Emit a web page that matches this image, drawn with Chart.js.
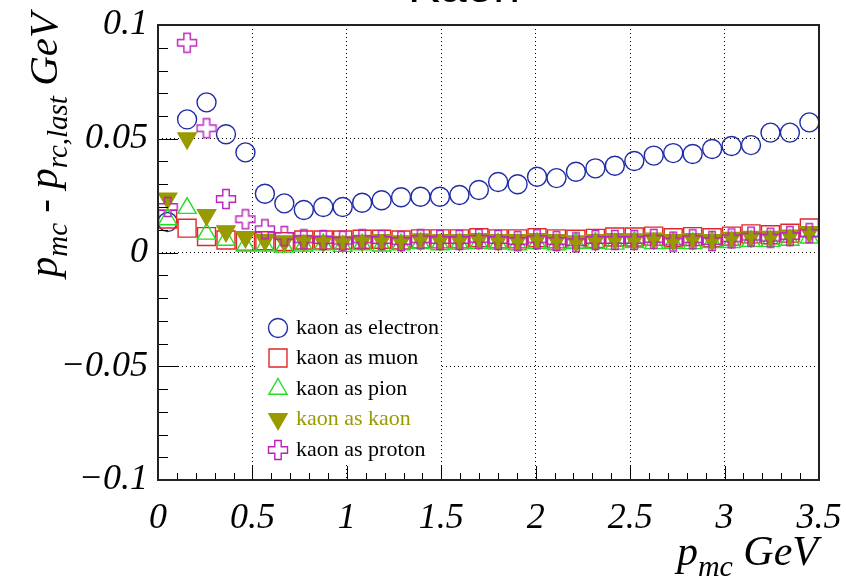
<!DOCTYPE html>
<html>
<head>
<meta charset="utf-8">
<title>Kaon</title>
<script src="https://cdn.jsdelivr.net/npm/chart.js"></script>
<style>
    html, body { margin: 0; padding: 0; background: #ffffff; }
    #wrap { width: 846px; height: 582px; }
</style>
</head>
<body>
<div id="wrap"><canvas id="myChart" width="846" height="582"></canvas></div>
<script>
// bin centres, p_mc in GeV
let p_mc = [0.051, 0.154, 0.257, 0.360, 0.463, 0.566, 0.669, 0.772, 0.875, 0.978,
    1.081, 1.184, 1.287, 1.390, 1.493, 1.596, 1.699, 1.801, 1.904, 2.007,
    2.110, 2.213, 2.316, 2.419, 2.522, 2.625, 2.728, 2.831, 2.934, 3.037,
    3.140, 3.243, 3.346, 3.449];

let labels = ['kaon as electron', 'kaon as muon', 'kaon as pion', 'kaon as kaon', 'kaon as proton'];

// p_mc - p_rc,last in GeV
let asElectron = [0.0134, 0.0585, 0.0660, 0.0520, 0.0440, 0.0258, 0.0216, 0.0187, 0.0200, 0.0200,
    0.0219, 0.0230, 0.0243, 0.0245, 0.0245, 0.0253, 0.0275, 0.0310, 0.0300, 0.0333,
    0.0327, 0.0355, 0.0370, 0.0381, 0.0402, 0.0426, 0.0437, 0.0433, 0.0455, 0.0468,
    0.0472, 0.0527, 0.0527, 0.0572];
let asMuon = [0.0147, 0.0107, 0.0070, 0.0055, 0.0050, 0.0052, 0.0048, 0.0055, 0.0055, 0.0055,
    0.0058, 0.0058, 0.0055, 0.0060, 0.0060, 0.0060, 0.0065, 0.0060, 0.0060, 0.0065,
    0.0060, 0.0058, 0.0062, 0.0068, 0.0068, 0.0072, 0.0065, 0.0070, 0.0065, 0.0072,
    0.0082, 0.0078, 0.0085, 0.0108];
let asPion = [0.0145, 0.0195, 0.0082, 0.0055, 0.0030, 0.0030, 0.0025, 0.0030, 0.0035, 0.0028,
    0.0035, 0.0030, 0.0035, 0.0040, 0.0035, 0.0038, 0.0040, 0.0038, 0.0035, 0.0040,
    0.0035, 0.0040, 0.0042, 0.0038, 0.0045, 0.0040, 0.0042, 0.0040, 0.0045, 0.0045,
    0.0050, 0.0050, 0.0055, 0.0065];
let asKaon = [0.0238, 0.0502, 0.0165, 0.0094, 0.0068, 0.0055, 0.0050, 0.0052, 0.0050, 0.0048,
    0.0052, 0.0055, 0.0050, 0.0058, 0.0055, 0.0055, 0.0060, 0.0055, 0.0055, 0.0060,
    0.0055, 0.0050, 0.0055, 0.0060, 0.0058, 0.0062, 0.0055, 0.0060, 0.0055, 0.0065,
    0.0070, 0.0070, 0.0075, 0.0090];
let asProton = [0.0200, 0.0922, 0.0546, 0.0235, 0.0146, 0.0102, 0.0072, 0.0058, 0.0055, 0.0052,
    0.0058, 0.0055, 0.0050, 0.0058, 0.0055, 0.0055, 0.0060, 0.0055, 0.0050, 0.0058,
    0.0050, 0.0045, 0.0055, 0.0055, 0.0055, 0.0060, 0.0048, 0.0058, 0.0050, 0.0062,
    0.0070, 0.0065, 0.0072, 0.0085];

let xTicks = [0, 0.5, 1, 1.5, 2, 2.5, 3, 3.5];
let yTicks = [-0.1, -0.05, 0, 0.05, 0.1];

const SERIF = '"Liberation Serif", "DejaVu Serif", serif';

// open "plus" marker (ROOT style 28), there is no built-in one
function makeOpenCross(color) {
    let c = document.createElement('canvas');
    c.width = 22;
    c.height = 22;
    let g = c.getContext('2d');
    let h = 9.5, a = 3.2;
    let pts = [[-a, -h], [a, -h], [a, -a], [h, -a], [h, a], [a, a], [a, h], [-a, h], [-a, a], [-h, a], [-h, -a], [-a, -a]];
    g.translate(11, 11);
    g.beginPath();
    pts.forEach(function (p, i) {
        if (i === 0) g.moveTo(p[0], p[1]);
        else g.lineTo(p[0], p[1]);
    });
    g.closePath();
    g.lineWidth = 1.4;
    g.strokeStyle = color;
    g.stroke();
    return c;
}

let series = [asElectron, asMuon, asPion, asKaon, asProton];
let colors = ['#1f2ca6', '#e02828', '#22dd22', '#999900', '#bb22bb'];
let styles = ['circle', 'rect', 'triangle', 'triangle', makeOpenCross('#bb22bb')];
let radii = [9.5, 12.7, 10.5, 10.5, 10];
let rotations = [0, 0, 0, 180, 0];
let fills = ['rgba(0,0,0,0)', 'rgba(0,0,0,0)', 'rgba(0,0,0,0)', '#999900', 'rgba(0,0,0,0)'];

let datasets = [];
for (let i = 0; i < series.length; i++) {
    datasets.push({
        label: labels[i],
        data: p_mc.map(function (x, j) { return { x: x, y: series[i][j] }; }),
        showLine: false,
        pointStyle: styles[i],
        pointRadius: radii[i],
        pointHoverRadius: radii[i],
        pointRotation: rotations[i],
        pointBorderWidth: 1.4,
        pointBorderColor: colors[i],
        pointBackgroundColor: fills[i],
        order: series.length - i   // later series drawn on top, like ROOT
    });
}

function fmtY(v) {
    if (Math.abs(v) < 1e-9) return '0';
    return (v < 0 ? '\u2212' : '') + String(+Math.abs(v).toFixed(2));
}

// draws a run of text pieces (for subscripts), returns total width
function richText(ctx, pieces, x, y, measureOnly) {
    let cx = x;
    for (let i = 0; i < pieces.length; i++) {
        let p = pieces[i];
        ctx.font = 'italic ' + p.size + 'px ' + SERIF;
        if (!measureOnly) ctx.fillText(p.t, cx, y + (p.dy || 0));
        cx += ctx.measureText(p.t).width;
    }
    return cx - x;
}

let ytitle = [
    { t: 'p', size: 41 }, { t: 'mc', size: 29, dy: 10 }, { t: ' - ', size: 41 },
    { t: 'p', size: 41 }, { t: 'rc,last', size: 29, dy: 10 }, { t: ' GeV', size: 41 }
];
let xtitle = [{ t: 'p', size: 42 }, { t: 'mc', size: 30, dy: 11 }, { t: ' GeV', size: 42 }];

// chart.js pads the area for the edge labels; ROOT does not
function noLabelPadding(scale) {
    scale.paddingLeft = 0;
    scale.paddingRight = 0;
    scale.paddingTop = 0;
    scale.paddingBottom = 0;
}

const rootDecor = {
    id: 'rootDecor',
    afterDatasetsDraw: function (chart) {
        let ctx = chart.ctx;
        // legend
        ctx.save();
        ctx.fillStyle = '#ffffff';
        ctx.fillRect(256, 315, 185, 148);
        let rows = [328, 358, 389, 419, 450];
        for (let i = 0; i < labels.length; i++) {
            ctx.strokeStyle = colors[i];
            ctx.fillStyle = fills[i];
            ctx.lineWidth = 1.4;
            Chart.helpers.drawPoint(ctx, {
                pointStyle: styles[i], radius: radii[i], rotation: rotations[i], borderWidth: 1.4
            }, 278, rows[i]);
            ctx.fillStyle = i === 3 ? '#999900' : '#000000';
            ctx.font = '22px ' + SERIF;
            ctx.textBaseline = 'middle';
            ctx.textAlign = 'left';
            ctx.fillText(labels[i], 296, rows[i]);
        }
        ctx.restore();
    },
    afterDraw: function (chart) {
        let ctx = chart.ctx;
        let a = chart.chartArea;
        let xs = chart.scales.x, ys = chart.scales.y;
        ctx.save();
        ctx.strokeStyle = '#000000';
        ctx.lineWidth = 1;
        // y ticks, every 0.01, major every 0.05
        ctx.beginPath();
        for (let i = -10; i <= 10; i++) {
            let y = Math.round(ys.getPixelForValue(i / 100)) + 0.5;
            let len = i % 5 === 0 ? 20 : 10;
            ctx.moveTo(a.left, y);
            ctx.lineTo(a.left + len, y);
        }
        // x ticks, every 0.1, major every 0.5
        for (let i = 0; i <= 35; i++) {
            let x = Math.round(xs.getPixelForValue(i / 10)) + 0.5;
            let len = i % 5 === 0 ? 14 : 7;
            ctx.moveTo(x, a.bottom);
            ctx.lineTo(x, a.bottom - len);
        }
        ctx.stroke();
        // frame
        ctx.lineWidth = 2;
        ctx.strokeStyle = '#222222';
        ctx.strokeRect(a.left, a.top, a.right - a.left, a.bottom - a.top);

        // axis titles
        ctx.fillStyle = '#000000';
        ctx.textBaseline = 'alphabetic';
        ctx.textAlign = 'left';
        let wx = richText(ctx, xtitle, 0, 0, true);
        richText(ctx, xtitle, 818 - wx, 565);
        let wy = richText(ctx, ytitle, 0, 0, true);
        ctx.translate(57, 13 + wy);
        ctx.rotate(-Math.PI / 2);
        richText(ctx, ytitle, 0, 0);
        ctx.restore();

        // title, mostly outside the picture
        ctx.save();
        ctx.fillStyle = '#000000';
        ctx.font = '48px "Liberation Sans", Arial, sans-serif';
        ctx.textAlign = 'center';
        ctx.textBaseline = 'alphabetic';
        ctx.fillText('Kaon', 464, 1.5);
        ctx.restore();
    }
};

let ctx = document.getElementById('myChart').getContext('2d');
let myChart = new Chart(ctx, {
    type: 'scatter',
    data: { datasets: datasets },
    options: {
        responsive: false,
        animation: false,
        layout: { padding: { left: 0, right: 27, top: 25, bottom: 0 } },
        plugins: {
            legend: { display: false },
            tooltip: { enabled: false }
        },
        scales: {
            x: {
                type: 'linear',
                min: 0,
                max: 3.5,
                afterBuildTicks: function (scale) {
                    scale.ticks = xTicks.map(function (v) { return { value: v }; });
                },
                afterFit: function (scale) {
                    scale.height = 102;
                    noLabelPadding(scale);
                },
                grid: { color: '#000000', lineWidth: 1, drawTicks: false },
                border: { display: false, dash: [1, 3] },
                ticks: {
                    padding: 17,
                    color: '#000000',
                    maxRotation: 0,
                    autoSkip: false,
                    font: { family: SERIF, style: 'italic', size: 36 },
                    callback: function (v) { return String(+Number(v).toFixed(1)); }
                }
            },
            y: {
                type: 'linear',
                min: -0.1,
                max: 0.1,
                afterBuildTicks: function (scale) {
                    scale.ticks = yTicks.map(function (v) { return { value: v }; });
                },
                afterFit: function (scale) {
                    scale.width = 158;
                    noLabelPadding(scale);
                },
                grid: { color: '#000000', lineWidth: 1, drawTicks: false },
                border: { display: false, dash: [1, 3] },
                ticks: {
                    padding: 10,
                    color: '#000000',
                    autoSkip: false,
                    font: { family: SERIF, style: 'italic', size: 36 },
                    callback: function (v) { return fmtY(v); }
                }
            }
        }
    },
    plugins: [rootDecor]
});
</script>
</body>
</html>
